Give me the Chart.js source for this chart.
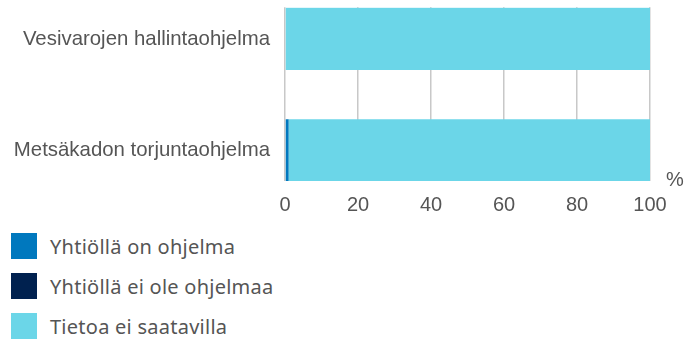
<!DOCTYPE html>
<html>
<head>
<meta charset="utf-8">
<script src="https://cdn.jsdelivr.net/npm/chart.js@4"></script>
<style>
  html, body { margin: 0; padding: 0; background: #fff; }
  #wrap { position: relative; width: 698px; height: 340px; overflow: hidden; }
  #chartBox { position: absolute; left: 0; top: -20px; width: 698px; height: 245px; }
  #legend { position: absolute; left: 11px; top: 233px; font-family: "Noto Sans", sans-serif; font-size: 20px; letter-spacing: 0.25px; color: #555; }
  .item { display: flex; align-items: center; height: 26px; margin-bottom: 14px; }
  .sw { width: 26px; height: 26px; margin-right: 13px; flex: none; }
</style>
</head>
<body>
<div id="wrap">
  <div id="chartBox"><canvas id="c"></canvas></div>
  <div id="legend"></div>
</div>
<script>
const categories = ["Vesivarojen hallintaohjelma", "Metsäkadon torjuntaohjelma"];
const seriesNames = ["Yhtiöllä on ohjelma", "Yhtiöllä ei ole ohjelmaa", "Tietoa ei saatavilla"];
const seriesColors = ["#0078be", "#00214f", "#6bd6e8"];
const hasProgram = [0, 1];
const noProgram = [0, 0];
const noData = [100, 99];
const xTicks = [0, 20, 40, 60, 80, 100];

const seriesValues = [hasProgram, noProgram, noData];
const Y_MIN = -0.284, Y_MAX = 1.275;

const percentPlugin = {
  id: 'percentLabel',
  afterDraw(chart) {
    const ctx = chart.ctx;
    const area = chart.chartArea;
    ctx.save();
    ctx.font = '20px "Liberation Sans", Arial, sans-serif';
    ctx.fillStyle = '#555';
    ctx.textAlign = 'left';
    ctx.textBaseline = 'middle';
    ctx.fillText('%', area.right + 16, area.bottom - 1);
    ctx.restore();
  }
};

new Chart(document.getElementById('c'), {
  type: 'bar',
  data: {
    datasets: seriesNames.map((n, i) => ({
      label: n,
      data: seriesValues[i].map((v, k) => ({ x: v, y: k })),
      backgroundColor: seriesColors[i],
      borderWidth: 0,
      stack: 'all',
      barPercentage: 0.559,
      categoryPercentage: 1.0
    }))
  },
  options: {
    indexAxis: 'y',
    responsive: true,
    maintainAspectRatio: false,
    animation: false,
    layout: { padding: { top: 0, right: 48, left: 0, bottom: 0 } },
    plugins: { legend: { display: false }, tooltip: { enabled: false } },
    scales: {
      x: {
        type: 'linear',
        stacked: true,
        min: 0, max: 100,
        afterBuildTicks(s) { s.ticks = xTicks.map(v => ({ value: v })); },
        ticks: {
          color: '#555',
          font: { family: '"Liberation Sans", Arial, sans-serif', size: 20 },
          padding: 12,
          maxRotation: 0
        },
        grid: { color: '#c8c8c8', lineWidth: 1.5, drawTicks: false },
        border: { display: false },
        afterFit(s) { s.height = 44; }
      },
      y: {
        type: 'linear',
        reverse: true,
        offset: false,
        bounds: 'data',
        grace: 0,
        beginAtZero: false,
        min: Y_MIN,
        max: Y_MAX,
        afterDataLimits(s) { s.min = Y_MIN; s.max = Y_MAX; },
        afterBuildTicks(s) { s.ticks = categories.map((c, i) => ({ value: i })); },
        ticks: {
          color: '#555',
          font: { family: '"Liberation Sans", Arial, sans-serif', size: 20.4 },
          padding: 15,
          callback: (v) => categories[v]
        },
        grid: { display: false, drawTicks: false, offset: false },
        border: { display: false },
        afterFit(s) { s.width = 285; }
      }
    }
  },
  plugins: [percentPlugin]
});

const leg = document.getElementById('legend');
seriesNames.forEach((n, i) => {
  const d = document.createElement('div');
  d.className = 'item';
  const sw = document.createElement('span');
  sw.className = 'sw';
  sw.style.background = seriesColors[i];
  const t = document.createElement('span');
  t.textContent = n;
  d.appendChild(sw); d.appendChild(t);
  leg.appendChild(d);
});
</script>
</body>
</html>
